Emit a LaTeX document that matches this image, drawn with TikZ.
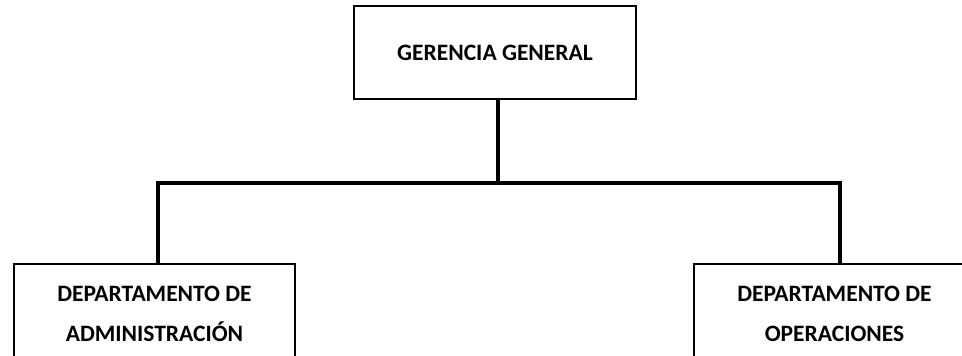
\documentclass[tikz,border=0pt]{standalone}
\usepackage{fontspec}
\setmainfont{Carlito}
\tikzset{
  orgbox/.style={draw=black, line width=2.5pt, fill=white, inner sep=0pt, align=center,
    font=\bfseries\fontsize{23.5}{40}\selectfont},
  link/.style={draw=black, line width=3.5pt}
}
\begin{document}
\begin{tikzpicture}[x=1pt,y=-1pt]
\clip (0,0) rectangle (962,356);
\fill[white] (0,0) rectangle (962,356);
\node[orgbox, minimum width=282pt, minimum height=93pt] (top) at (495,52.5) {GERENCIA GENERAL};
\node[orgbox, minimum width=281pt, minimum height=100pt] (adm) at (154.5,314) {DEPARTAMENTO DE\\ADMINISTRACIÓN};
\node[orgbox, minimum width=281pt, minimum height=100pt] (ope) at (834.5,314) {DEPARTAMENTO DE\\OPERACIONES};
\coordinate (hl) at (158,183);
\coordinate (hr) at (840,183);
\coordinate (tc) at (498,99);
\draw[link] (tc) -- (tc |- hl);
\draw[link, line cap=rect] (hl) -- (hr);
\draw[link] (hl) -- (hl |- adm.north);
\draw[link] (hr) -- (hr |- ope.north);
\end{tikzpicture}
\end{document}
